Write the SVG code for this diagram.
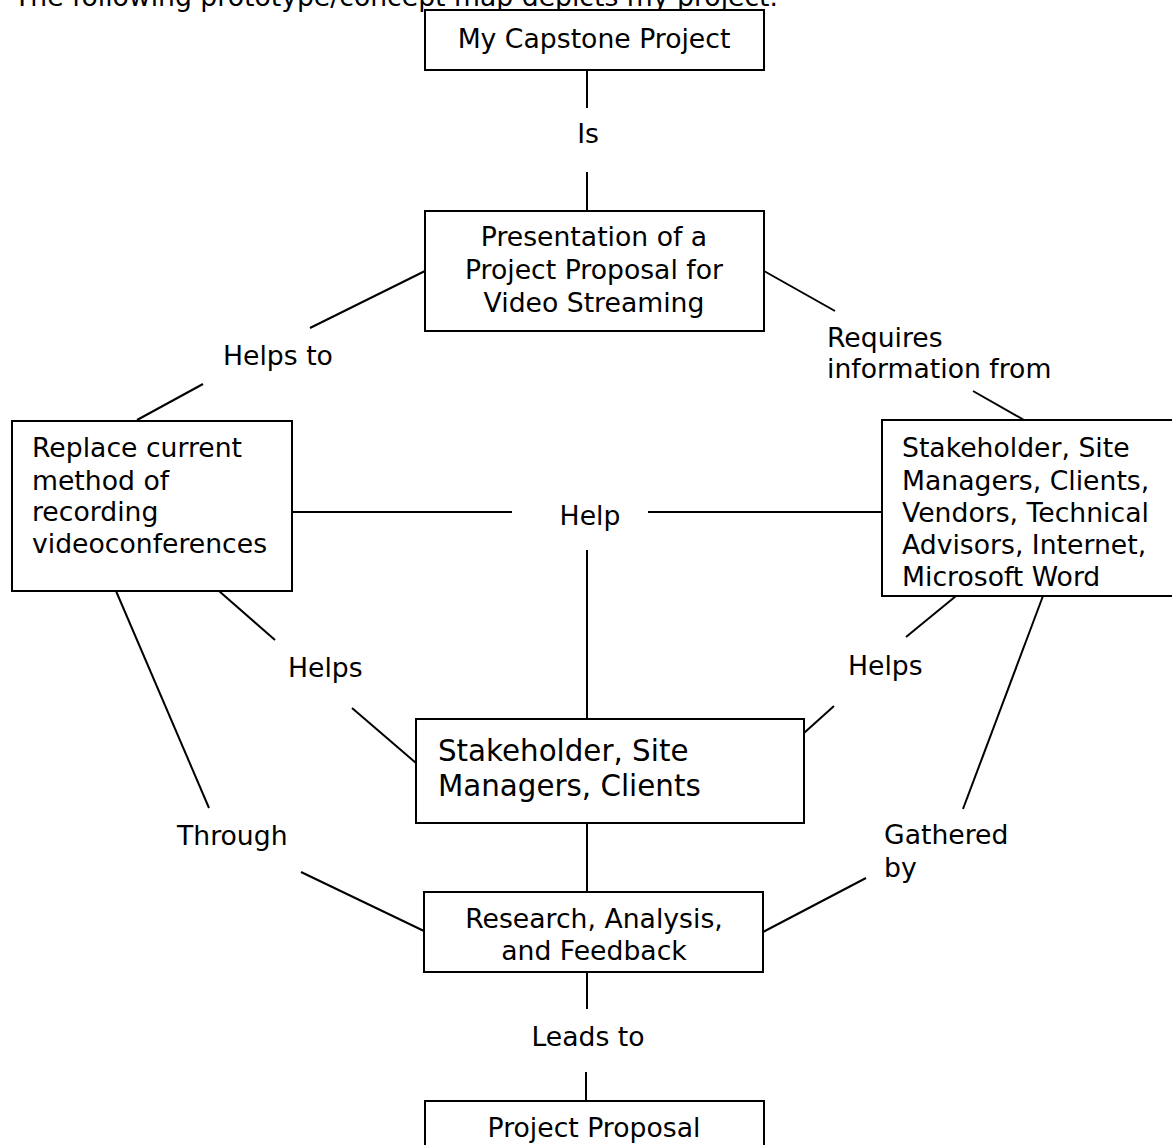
<svg xmlns="http://www.w3.org/2000/svg" width="1172" height="1145" viewBox="0 0 1172 1145">
<style>
text{font-family:"DejaVu Sans",Verdana,sans-serif;font-size:26.67px;fill:#000}
.c{text-anchor:middle}
.big{font-size:29.33px}
.box{fill:#fff;stroke:#000;stroke-width:2}
.ln{stroke:#000;stroke-width:2;fill:none}
</style>
<rect width="1172" height="1145" fill="#fff"/>
<text id="title" x="14" y="6">The following prototype/concept map depicts my project.</text>
<g id="connectors">
<line class="ln" x1="587" y1="70" x2="587" y2="108"/>
<line class="ln" x1="587" y1="172" x2="587" y2="211"/>
<line class="ln" x1="425" y1="271" x2="310" y2="328"/>
<line class="ln" x1="203" y1="384" x2="137" y2="420"/>
<line class="ln" x1="764" y1="271" x2="835" y2="311"/>
<line class="ln" x1="973" y1="391" x2="1024" y2="420"/>
<line class="ln" x1="292" y1="512" x2="512" y2="512"/>
<line class="ln" x1="648" y1="512" x2="882" y2="512"/>
<line class="ln" x1="587" y1="550" x2="587" y2="719"/>
<line class="ln" x1="219" y1="591" x2="275" y2="640"/>
<line class="ln" x1="352" y1="708" x2="416" y2="763"/>
<line class="ln" x1="116" y1="591" x2="209" y2="808"/>
<line class="ln" x1="301" y1="872" x2="424" y2="931"/>
<line class="ln" x1="956" y1="596" x2="906" y2="637"/>
<line class="ln" x1="834" y1="706" x2="804" y2="733"/>
<line class="ln" x1="1043" y1="596" x2="963" y2="809"/>
<line class="ln" x1="866" y1="878" x2="763" y2="932"/>
<line class="ln" x1="587" y1="823" x2="587" y2="892"/>
<line class="ln" x1="587" y1="972" x2="587" y2="1009"/>
<line class="ln" x1="586" y1="1072" x2="586" y2="1101"/>
</g>
<g id="labels">
<text class="c" x="588" y="143">Is</text>
<text x="223" y="365">Helps to</text>
<text x="827" y="347">Requires</text>
<text x="827" y="378">information from</text>
<text class="c" x="590" y="525">Help</text>
<text x="288" y="677">Helps</text>
<text x="848" y="675">Helps</text>
<text x="177" y="845">Through</text>
<text x="884" y="844">Gathered</text>
<text x="884" y="877">by</text>
<text class="c" x="588" y="1046">Leads to</text>
</g>
<g id="n1">
<rect class="box" x="425" y="10" width="339" height="60"/>
<text class="c" x="594" y="48">My Capstone Project</text>
</g>
<g id="n2">
<rect class="box" x="425" y="211" width="339" height="120"/>
<text class="c" x="594" y="246">Presentation of a</text>
<text class="c" x="594" y="279">Project Proposal for</text>
<text class="c" x="594" y="312">Video Streaming</text>
</g>
<g id="n3">
<rect class="box" x="12" y="421" width="280" height="170"/>
<text x="32" y="457">Replace current</text>
<text x="32" y="490">method of</text>
<text x="32" y="521">recording</text>
<text x="32" y="553">videoconferences</text>
</g>
<g id="n4">
<rect class="box" x="882" y="420" width="300" height="176"/>
<text x="902" y="457">Stakeholder, Site</text>
<text x="902" y="490">Managers, Clients,</text>
<text x="902" y="522">Vendors, Technical</text>
<text x="902" y="554">Advisors, Internet,</text>
<text x="902" y="586">Microsoft Word</text>
</g>
<g id="n5">
<rect class="box" x="416" y="719" width="388" height="104"/>
<text class="big" x="438" y="761">Stakeholder, Site</text>
<text class="big" x="438" y="796">Managers, Clients</text>
</g>
<g id="n6">
<rect class="box" x="424" y="892" width="339" height="80"/>
<text class="c" x="594" y="928">Research, Analysis,</text>
<text class="c" x="594" y="960">and Feedback</text>
</g>
<g id="n7">
<rect class="box" x="425" y="1101" width="339" height="60"/>
<text class="c" x="594" y="1137">Project Proposal</text>
</g>
</svg>
